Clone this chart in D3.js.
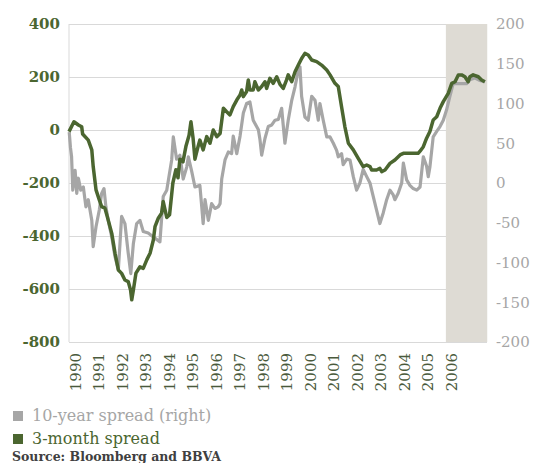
<!DOCTYPE html>
<html>
<head>
<meta charset="utf-8">
<script src="https://cdn.jsdelivr.net/npm/d3@7"></script>
<style>
  body { margin: 0; background: #fff; }
  svg text { font-family: "DejaVu Serif", serif; }
</style>
</head>
<body>
<svg id="chart"></svg>
<script>
// x axis labels and axis ticks
const years = [1990, 1991, 1992, 1993, 1994, 1995, 1996, 1997, 1998, 1999, 2000, 2001, 2002, 2003, 2004, 2005, 2006];
const leftTicks = [-800, -600, -400, -200, 0, 200, 400];
const rightTicks = [-200, -150, -100, -50, 0, 50, 100, 150, 200];
const shadedPeriod = [2006.04, 2007.8];

// 3-month spread (left axis)
const threeMonthDates = [
  1990.00, 1990.21, 1990.40, 1990.54, 1990.58, 1990.82, 1990.97, 1991.03, 1991.15, 1991.29,
  1991.39, 1991.53, 1991.67, 1991.82, 1991.96, 1992.10, 1992.24, 1992.38, 1992.52, 1992.62,
  1992.67, 1992.74, 1992.85, 1993.02, 1993.16, 1993.31, 1993.45, 1993.59, 1993.66, 1993.80,
  1993.94, 1994.01, 1994.16, 1994.28, 1994.42, 1994.55, 1994.64, 1994.72, 1994.85, 1994.98,
  1995.11, 1995.19, 1995.28, 1995.36, 1995.50, 1995.57, 1995.71, 1995.86, 1996.00, 1996.14,
  1996.29, 1996.43, 1996.57, 1996.71, 1996.85, 1996.99, 1997.14, 1997.28, 1997.35, 1997.42,
  1997.56, 1997.63, 1997.70, 1997.84, 1997.91, 1998.06, 1998.20, 1998.34, 1998.41, 1998.55,
  1998.69, 1998.84, 1998.98, 1999.12, 1999.26, 1999.33, 1999.48, 1999.62, 1999.76, 1999.90,
  2000.04, 2000.18, 2000.33, 2000.54, 2000.75, 2000.97, 2001.11, 2001.32, 2001.46, 2001.60,
  2001.74, 2001.89, 2002.10, 2002.31, 2002.52, 2002.67, 2002.81, 2002.88, 2003.09, 2003.23,
  2003.31, 2003.45, 2003.66, 2003.87, 2004.09, 2004.23, 2004.86, 2004.94, 2005.08, 2005.22,
  2005.36, 2005.50, 2005.65, 2005.79, 2005.93, 2006.14, 2006.29, 2006.43, 2006.57, 2006.71,
  2006.85, 2006.99, 2007.06, 2007.20, 2007.42, 2007.56, 2007.70
];
const threeMonthSpread = [
  -6, 31, 19, 12, -15, -38, -75, -138, -226, -264,
  -289, -295, -340, -390, -465, -528, -541, -566, -572, -604,
  -641, -604, -540, -516, -522, -490, -465, -415, -365, -333,
  -314, -270, -330, -320, -200, -150, -180, -110, -120, -60,
  -20, 31, -30, -110, -60, -38, -75, -25, -50, 0,
  -25, -13, 82, 69, 57, 88, 113, 132, 151, 126,
  145, 189, 151, 151, 182, 151, 164, 182, 157, 195,
  176, 201, 172, 157, 189, 208, 182, 220, 245, 270,
  289, 283, 264, 258, 245, 226, 208, 176, 164, 88,
  13, -50, -75, -107, -138, -132, -138, -151, -151, -145,
  -157, -151, -126, -113, -94, -88, -88, -80, -63, -31,
  -6, 38, 50, 82, 107, 138, 176, 182, 208, 208,
  201, 182, 201, 208, 201, 189, 182
];

// 10-year spread (right axis)
const tenYearDates = [
  1990.01, 1990.06, 1990.11, 1990.16, 1990.26, 1990.33, 1990.40, 1990.50, 1990.61, 1990.72,
  1990.82, 1990.97, 1991.03, 1991.15, 1991.29, 1991.39, 1991.49, 1991.57, 1991.67, 1991.82,
  1991.96, 1992.10, 1992.17, 1992.24, 1992.38, 1992.52, 1992.63, 1992.74, 1992.88, 1993.02,
  1993.16, 1993.37, 1993.59, 1993.87, 1994.01, 1994.16, 1994.37, 1994.44, 1994.58, 1994.72,
  1994.86, 1995.01, 1995.08, 1995.22, 1995.36, 1995.57, 1995.65, 1995.71, 1995.79, 1995.93,
  1996.07, 1996.21, 1996.35, 1996.43, 1996.50, 1996.64, 1996.78, 1996.92, 1996.99, 1997.14,
  1997.28, 1997.42, 1997.56, 1997.70, 1997.84, 1998.06, 1998.13, 1998.20, 1998.34, 1998.48,
  1998.63, 1998.77, 1998.91, 1999.05, 1999.19, 1999.33, 1999.48, 1999.62, 1999.76, 1999.83,
  1999.90, 2000.04, 2000.18, 2000.33, 2000.47, 2000.61, 2000.68, 2000.82, 2000.97, 2001.11,
  2001.25, 2001.39, 2001.46, 2001.60, 2001.67, 2001.82, 2001.96, 2002.10, 2002.24, 2002.38,
  2002.52, 2002.67, 2002.81, 2002.95, 2003.09, 2003.23, 2003.37, 2003.52, 2003.66, 2003.80,
  2003.87, 2004.01, 2004.16, 2004.23, 2004.37, 2004.51, 2004.65, 2004.80, 2004.94, 2005.08,
  2005.22, 2005.29, 2005.36, 2005.50, 2005.65, 2005.79, 2005.93, 2006.07, 2006.21, 2006.35,
  2006.64, 2006.92, 2007.06, 2007.28, 2007.49, 2007.70
];
const tenYearSpread = [
  64, 45, 33, -9, 16, -13, 6, -9, -5, -30,
  -21, -47, -80, -55, -34, -13, -7, -30, -47, -68,
  -93, -109, -76, -42, -51, -88, -114, -76, -51, -47,
  -61, -63, -68, -74, -17, -9, 29, 58, 30, 35,
  5, 20, 33, 15, -5, -3, -30, -51, -21, -47,
  -26, -32, -30, -26, 5, 29, 39, 37, 59, 37,
  59, 88, 100, 102, 79, 67, 54, 35, 56, 71,
  73, 79, 80, 94, 50, 79, 104, 121, 142, 146,
  109, 83, 79, 109, 104, 79, 100, 79, 58, 58,
  50, 41, 33, 37, 23, 30, 29, 8, -9, 0,
  17, 8, 0, -17, -34, -51, -38, -21, -9, -15,
  -21, -13, 0, 25, 4, -3, -7, -9, -5, 33,
  21, 8, 20, 58, 65, 71, 79, 92, 109, 125,
  125, 125, 130, 132, 129, 127
];

const legendItems = [
  { label: '10-year spread (right)', color: '#a6a6a6' },
  { label: '3-month spread', color: '#4b6630' }
];

const w = 534; // svg width
const h = 463; // svg height
const plotLeft = 69;
const plotRight = 487;
const plotTop = 24;
const plotBottom = 342;

const green = '#4b6630';
const grey = '#a6a6a6';

const svg = d3.select('#chart').attr('width', w).attr('height', h);

const xScale = d3.scaleLinear().domain([1990, 2007.79]).range([plotLeft, plotRight]);
const yLeft = d3.scaleLinear().domain([-800, 400]).range([plotBottom, plotTop]);
const yRight = d3.scaleLinear().domain([-200, 200]).range([plotBottom, plotTop]);

// plain hyphen for negatives, like the original
const plain = (d) => String(d);

// horizontal gridlines
svg.append('g')
  .attr('transform', 'translate(' + plotLeft + ',0)')
  .call(d3.axisLeft(yLeft).tickValues(leftTicks).tickSize(-(plotRight - plotLeft)).tickFormat(''))
  .call((g) => g.select('.domain').remove())
  .selectAll('line')
  .attr('stroke', '#d9d9d9')
  .attr('stroke-width', 1);

// left border of plot area
svg.append('line')
  .attr('x1', plotLeft).attr('x2', plotLeft)
  .attr('y1', plotTop).attr('y2', plotBottom)
  .attr('stroke', '#d9d9d9');

// shaded period
svg.append('rect')
  .attr('x', xScale(shadedPeriod[0]))
  .attr('y', plotTop)
  .attr('width', xScale(shadedPeriod[1]) - xScale(shadedPeriod[0]))
  .attr('height', plotBottom - plotTop)
  .attr('fill', '#dedbd4');

// lines
const tenYear = tenYearDates.map((d, i) => [d, tenYearSpread[i]]);
const threeMonth = threeMonthDates.map((d, i) => [d, threeMonthSpread[i]]);

svg.append('path')
  .datum(tenYear)
  .attr('fill', 'none')
  .attr('stroke', grey)
  .attr('stroke-width', 3.2)
  .attr('stroke-linejoin', 'round')
  .attr('d', d3.line().x((d) => xScale(d[0])).y((d) => yRight(d[1])));

svg.append('path')
  .datum(threeMonth)
  .attr('fill', 'none')
  .attr('stroke', green)
  .attr('stroke-width', 3.5)
  .attr('stroke-linejoin', 'round')
  .attr('d', d3.line().x((d) => xScale(d[0])).y((d) => yLeft(d[1])));

// left axis labels
svg.append('g')
  .attr('transform', 'translate(' + plotLeft + ',0)')
  .call(d3.axisLeft(yLeft).tickValues(leftTicks).tickSize(0).tickPadding(9).tickFormat(plain))
  .call((g) => g.select('.domain').remove())
  .selectAll('text')
  .attr('fill', green)
  .attr('font-size', 15)
  .attr('font-weight', 'bold')
  .attr('font-family', '"DejaVu Serif", serif');

// right axis labels
svg.append('g')
  .attr('transform', 'translate(' + plotRight + ',0)')
  .call(d3.axisRight(yRight).tickValues(rightTicks).tickSize(0).tickPadding(9).tickFormat(plain))
  .call((g) => g.select('.domain').remove())
  .selectAll('text')
  .attr('fill', grey)
  .attr('font-size', 15)
  .attr('font-family', '"DejaVu Serif", serif');

// x axis labels, rotated
svg.append('g')
  .attr('transform', 'translate(0,' + plotBottom + ')')
  .call(d3.axisBottom(xScale).tickValues(years).tickSize(0).tickFormat(d3.format('d')))
  .call((g) => g.select('.domain').remove())
  .selectAll('text')
  .attr('fill', '#4a5a3c')
  .attr('font-size', 15)
  .attr('font-family', '"DejaVu Serif", serif')
  .attr('text-anchor', 'end')
  .attr('x', -11)
  .attr('y', 0)
  .attr('dy', '0.35em')
  .attr('transform', 'translate(6,0) rotate(-90)');

// legend
const legend = svg.append('g').attr('transform', 'translate(13,411)');
legendItems.forEach((item, i) => {
  legend.append('rect')
    .attr('x', 0).attr('y', i * 23)
    .attr('width', 10).attr('height', 10)
    .attr('fill', item.color);
  legend.append('text')
    .attr('x', 19).attr('y', i * 23 + 10)
    .attr('fill', item.color)
    .attr('font-size', 16)
    .text(item.label);
});

svg.append('text')
  .attr('x', 12).attr('y', 461)
  .attr('fill', '#404040')
  .attr('font-size', 12.5)
  .attr('font-weight', 'bold')
  .text('Source: Bloomberg and BBVA');
</script>
</body>
</html>
